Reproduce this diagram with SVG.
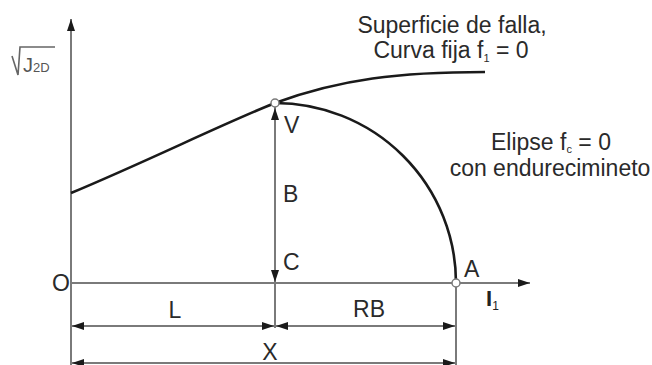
<svg xmlns="http://www.w3.org/2000/svg" width="652" height="365" viewBox="0 0 652 365">
<style>
.ax{stroke:#7a7a7a;stroke-width:2;fill:none}
.cv{stroke:#1a1a1a;stroke-width:2.6;fill:none}
.t{font-family:"Liberation Sans",Arial,sans-serif;fill:#2a2a2a;font-size:23px}
.s{font-family:"Liberation Sans",Arial,sans-serif;fill:#2a2a2a;font-size:11px}
.pt{fill:#fff;stroke:#7a7a7a;stroke-width:1.5}
</style>
<defs>
<marker id="ah" viewBox="0 0 12 8" refX="12" refY="4" markerWidth="12" markerHeight="8" markerUnits="userSpaceOnUse" orient="auto-start-reverse">
<path d="M0,0 L12,4 L0,8 Z" fill="#1a1a1a"/>
</marker>
</defs>
<g id="connectors">
<line class="ax" x1="71" y1="365" x2="71" y2="19" marker-end="url(#ah)"/>
<line class="ax" x1="71" y1="283" x2="530" y2="283" marker-end="url(#ah)"/>
<line class="ax" x1="275" y1="107" x2="275" y2="328"/>
<line class="ax" x1="456" y1="283" x2="456" y2="365"/>
<line class="ax" x1="275" y1="195" x2="275" y2="108" marker-end="url(#ah)"/>
<line class="ax" x1="275" y1="195" x2="275" y2="282" marker-end="url(#ah)"/>
<line class="ax" x1="173" y1="326" x2="72" y2="326" marker-end="url(#ah)"/>
<line class="ax" x1="173" y1="326" x2="274" y2="326" marker-end="url(#ah)"/>
<line class="ax" x1="365" y1="326" x2="276" y2="326" marker-end="url(#ah)"/>
<line class="ax" x1="365" y1="326" x2="455" y2="326" marker-end="url(#ah)"/>
<line class="ax" x1="263" y1="363" x2="72" y2="363" marker-end="url(#ah)"/>
<line class="ax" x1="263" y1="363" x2="455" y2="363" marker-end="url(#ah)"/>
</g>
<g id="failure-surface">
<path class="cv" d="M71,193 C150,160 220,125 275,103 C340,79 400,72 485,72"/>
<text class="t" x="452" y="33" text-anchor="middle">Superficie de falla,</text>
<text class="t" x="451" y="58" text-anchor="middle">Curva fija f<tspan class="s" dy="4">1</tspan><tspan dy="-4"> = 0</tspan></text>
</g>
<g id="ellipse">
<path class="cv" d="M275,103 A181,180 0 0 1 456,283"/>
<text class="t" x="551" y="150" text-anchor="middle">Elipse f<tspan class="s" dy="3">c</tspan><tspan dy="-3"> = 0</tspan></text>
<text class="t" x="550" y="176" text-anchor="middle">con endurecimineto</text>
</g>
<g id="axis-y-label">
<path d="M12,56 L18,75 L20,47 L55,47" stroke="#666" stroke-width="1.6" fill="none"/>
<text x="23" y="72" font-family="Liberation Sans,Arial,sans-serif" font-size="20" fill="#555">J<tspan font-size="13">2D</tspan></text>
</g>
<g id="point-V">
<circle class="pt" cx="275" cy="103" r="4"/>
<text class="t" x="284" y="133">V</text>
</g>
<g id="point-B"><text class="t" x="283" y="202">B</text></g>
<g id="point-C"><text class="t" x="283" y="270">C</text></g>
<g id="point-A">
<circle class="pt" cx="456" cy="283" r="4"/>
<text class="t" x="464" y="277">A</text>
</g>
<g id="point-O"><text class="t" x="52" y="291">O</text></g>
<g id="axis-x-label">
<text x="486" y="306" font-family="Liberation Sans,Arial,sans-serif" font-size="22" font-weight="bold" fill="#222">I<tspan font-size="12" font-weight="normal" dy="4">1</tspan></text>
</g>
<g id="dim-L"><text class="t" x="175" y="318" text-anchor="middle">L</text></g>
<g id="dim-RB"><text class="t" x="369" y="317" text-anchor="middle">RB</text></g>
<g id="dim-X"><text class="t" x="270" y="360" text-anchor="middle">X</text></g>
</svg>
